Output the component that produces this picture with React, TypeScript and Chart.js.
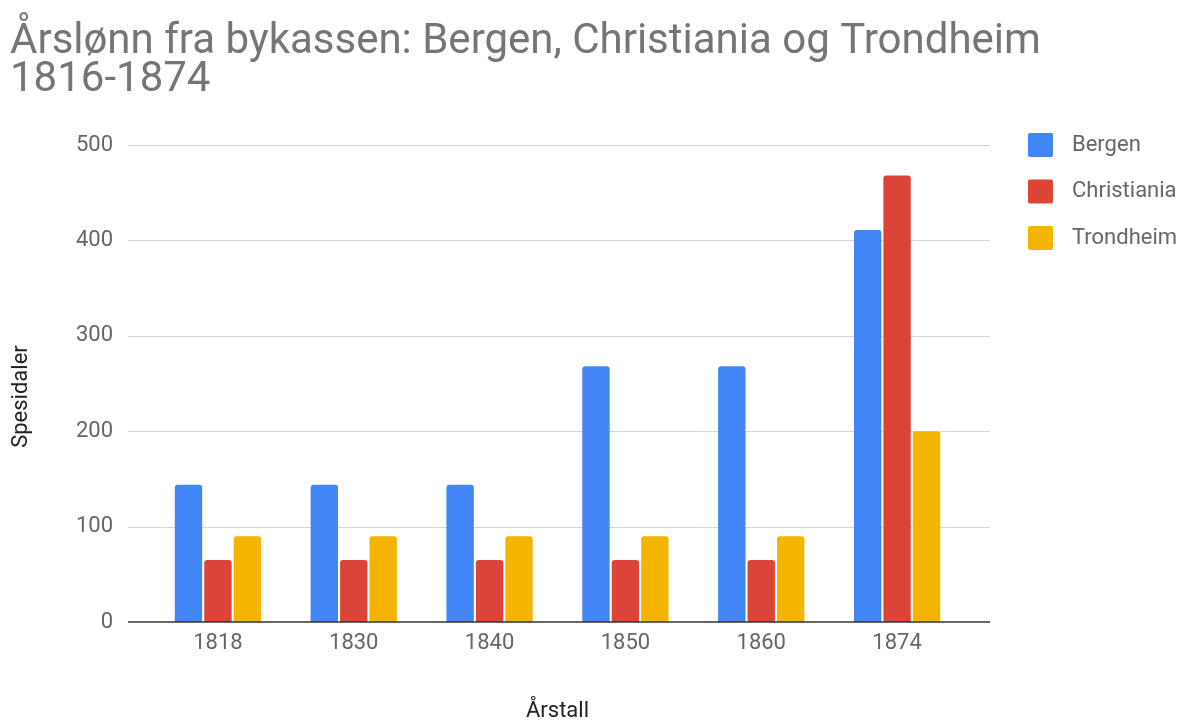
import React, { useEffect, useRef } from "react";
import { Chart, registerables } from "chart.js";

Chart.register(...registerables);

const categories = ["1818", "1830", "1840", "1850", "1860", "1874"];
const bergen = [144, 144, 144, 268, 268, 411];
const christiania = [65, 65, 65, 65, 65, 468];
const trondheim = [90, 90, 90, 90, 90, 200];
const yTicks = [0, 100, 200, 300, 400, 500];

const titleLines = ["Årslønn fra bykassen: Bergen, Christiania og Trondheim", "1816-1874"];
const xTitle = "Årstall";
const yTitle = "Spesidaler";

const FONT = "Roboto, 'Noto Sans', sans-serif";

const gridPlugin = {
  id: "extGrid",
  beforeDatasetsDraw(chart: any) {
    const { ctx, chartArea, scales } = chart;
    const y = scales.y;
    ctx.save();
    ctx.lineWidth = 1;
    ctx.strokeStyle = "#d6d6d6";
    yTicks.forEach((v) => {
      if (v === 0) return;
      const py = Math.round(y.getPixelForValue(v)) + 0.5;
      ctx.beginPath();
      ctx.moveTo(chartArea.left - 22, py);
      ctx.lineTo(chartArea.right + 25, py);
      ctx.stroke();
    });
    ctx.restore();
  },
  afterDatasetsDraw(chart: any) {
    const { ctx, chartArea, scales } = chart;
    const y = scales.y;
    ctx.save();
    ctx.lineWidth = 1.5;
    ctx.strokeStyle = "#333333";
    const py = y.getPixelForValue(0);
    ctx.beginPath();
    ctx.moveTo(chartArea.left - 22, py);
    ctx.lineTo(chartArea.right + 25, py);
    ctx.stroke();
    ctx.restore();
  },
  afterDraw(chart: any) {
    const { ctx, chartArea } = chart;
    ctx.save();
    // y axis title
    ctx.font = `22px ${FONT}`;
    ctx.fillStyle = "#222222";
    ctx.textAlign = "center";
    ctx.textBaseline = "middle";
    ctx.translate(21, (chartArea.top + chartArea.bottom) / 2 + 13);
    ctx.rotate(-Math.PI / 2);
    ctx.fillText(yTitle, 0, 0);
    ctx.restore();
    // legend
    ctx.save();
    ctx.font = `22px ${FONT}`;
    ctx.textAlign = "left";
    ctx.textBaseline = "middle";
    chart.data.datasets.forEach((ds: any, i: number) => {
      const top = chartArea.top - 12 + i * 46.5;
      const x = chartArea.right + 63;
      ctx.fillStyle = ds.backgroundColor;
      ctx.beginPath();
      (ctx as any).roundRect(x, top, 25, 24, 2);
      ctx.fill();
      ctx.fillStyle = "#666666";
      ctx.fillText(ds.label, x + 44, top + 12);
    });
    ctx.restore();
  },
};

export default function App() {
  const ref = useRef<HTMLCanvasElement>(null);
  useEffect(() => {
    const radius = { topLeft: 3, topRight: 3, bottomLeft: 0, bottomRight: 0 };
    const chart = new Chart(ref.current as HTMLCanvasElement, {
      type: "bar",
      data: {
        labels: categories,
        datasets: [
          { label: "Bergen", data: bergen, backgroundColor: "#4285F4", borderRadius: radius, borderSkipped: false },
          { label: "Christiania", data: christiania, backgroundColor: "#DB4437", borderRadius: radius, borderSkipped: false },
          { label: "Trondheim", data: trondheim, backgroundColor: "#F4B400", borderRadius: radius, borderSkipped: false },
        ],
      },
      options: {
        responsive: false,
        animation: false,
        maintainAspectRatio: false,
        layout: { padding: { left: 10, right: 0, top: 0, bottom: 0 } },
        datasets: { bar: { categoryPercentage: 0.65, barPercentage: 0.93 } } as any,
        plugins: {
          title: {
            display: true,
            text: titleLines,
            align: "start",
            color: "#757575",
            font: { family: FONT, size: 42, weight: "normal", lineHeight: 0.905 },
            padding: { top: 23, bottom: 46 },
          },
          legend: { display: false },
          tooltip: { enabled: false },
        },
        scales: {
          x: {
            grid: { display: false, drawTicks: false },
            border: { display: false },
            ticks: { color: "#666666", font: { family: FONT, size: 22 }, padding: 8 },
            title: {
              display: true,
              text: xTitle,
              color: "#222222",
              font: { family: FONT, size: 22, lineHeight: 0.8 },
              padding: { top: 0, bottom: 0 },
            },
            afterFit(scale: any) {
              scale.height = 98;
            },
          },
          y: {
            min: 0,
            max: 500,
            grid: { display: false, drawTicks: false },
            border: { display: false },
            ticks: { stepSize: 100, color: "#666666", font: { family: FONT, size: 22 }, padding: 37 },
            afterFit(scale: any) {
              scale.width = 140;
            },
          },
          yRight: {
            position: "right",
            display: true,
            grid: { display: false, drawTicks: false },
            border: { display: false },
            ticks: { display: false },
            afterFit(scale: any) {
              scale.width = 235;
            },
          },
        },
      },
      plugins: [gridPlugin],
    });
    return () => chart.destroy();
  }, []);
  return (
    <div style={{ position: "fixed", left: 0, top: 0, width: 1200, height: 720, background: "#fff" }}>
      <canvas ref={ref} width={1200} height={720} />
    </div>
  );
}
